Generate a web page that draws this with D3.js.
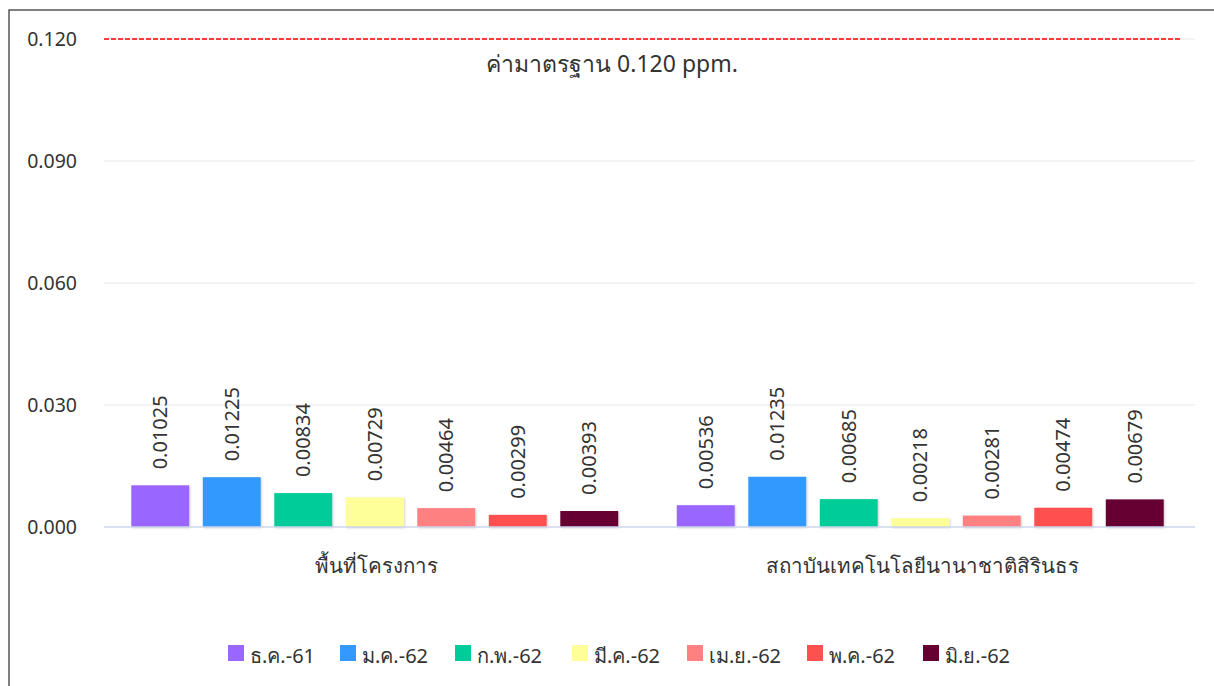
<!DOCTYPE html>
<html>
<head>
<meta charset="utf-8">
<script src="https://cdn.jsdelivr.net/npm/d3@7"></script>
<style>
  body { margin: 0; background: #fff; }
  text { font-family: "Noto Sans", sans-serif; fill: #333; }
</style>
</head>
<body>
<div id="chart"></div>
<script>
var categories = ["พื้นที่โครงการ", "สถาบันเทคโนโลยีนานาชาติสิรินธร"];
var seriesNames = ["ธ.ค.-61", "ม.ค.-62", "ก.พ.-62", "มี.ค.-62", "เม.ย.-62", "พ.ค.-62", "มิ.ย.-62"];
var seriesColors = ["#9966ff", "#3399ff", "#00cc99", "#ffff99", "#ff8080", "#ff5050", "#660033"];
var seriesValues = [
  [0.01025, 0.00536],
  [0.01225, 0.01235],
  [0.00834, 0.00685],
  [0.00729, 0.00218],
  [0.00464, 0.00281],
  [0.00299, 0.00474],
  [0.00393, 0.00679]
];
var yTicks = [0, 0.03, 0.06, 0.09, 0.12];
var standardValue = 0.12;
var standardLabel = "ค่ามาตรฐาน 0.120 ppm.";

var width = 1214, height = 686;
var margin = {top: 39, right: 19, bottom: 159, left: 104};

var svg = d3.select("#chart").append("svg")
  .attr("width", width)
  .attr("height", height);

// shadow for bars
var defs = svg.append("defs");
var f = defs.append("filter").attr("id", "shadow")
  .attr("x", "-10%").attr("y", "-10%").attr("width", "130%").attr("height", "130%");
f.append("feDropShadow").attr("dx", 1).attr("dy", 1).attr("stdDeviation", 1)
  .attr("flood-color", "#000").attr("flood-opacity", 0.2);

// frame
svg.append("rect")
  .attr("x", 9).attr("y", 10)
  .attr("width", 1300).attr("height", 800)
  .attr("fill", "none")
  .attr("stroke", "#555")
  .attr("stroke-width", 1.5);

var y = d3.scaleLinear().domain([0, 0.12]).range([height - margin.bottom, margin.top]);
var x0 = d3.scaleBand().domain(categories).range([margin.left, width - margin.right]);
var x1 = d3.scaleBand().domain(seriesNames)
  .range([20.5, x0.bandwidth() - 24.5])
  .paddingInner(0.19).paddingOuter(0.095);

// gridlines
svg.append("g").selectAll("line")
  .data(yTicks.filter(function(d) { return d > 0; }))
  .join("line")
  .attr("x1", margin.left).attr("x2", width - margin.right)
  .attr("y1", function(d) { return y(d); })
  .attr("y2", function(d) { return y(d); })
  .attr("stroke", "#e6e6e6").attr("stroke-width", 1);

// y tick labels
svg.append("g").selectAll("text")
  .data(yTicks)
  .join("text")
  .attr("x", 77)
  .attr("y", function(d) { return y(d); })
  .attr("dy", "0.35em")
  .attr("text-anchor", "end")
  .style("font-size", "19.5px")
  .text(function(d) { return d3.format(".3f")(d); });

// bars
var groups = svg.append("g").selectAll("g")
  .data(categories)
  .join("g")
  .attr("transform", function(d) { return "translate(" + x0(d) + ",0)"; });

groups.selectAll("rect")
  .data(function(d, i) {
    return seriesNames.map(function(s, j) { return {s: s, v: seriesValues[j][i], c: seriesColors[j]}; });
  })
  .join("rect")
  .attr("x", function(d) { return x1(d.s); })
  .attr("y", function(d) { return y(d.v); })
  .attr("width", x1.bandwidth())
  .attr("height", function(d) { return y(0) - y(d.v); })
  .attr("fill", function(d) { return d.c; })
  .attr("filter", "url(#shadow)");

groups.selectAll("text")
  .data(function(d, i) {
    return seriesNames.map(function(s, j) { return {s: s, v: seriesValues[j][i]}; });
  })
  .join("text")
  .attr("transform", function(d) {
    return "translate(" + (x1(d.s) + x1.bandwidth() / 2) + "," + (y(d.v) - 16) + ") rotate(-90)";
  })
  .attr("dy", "0.35em")
  .attr("text-anchor", "start")
  .style("font-size", "20px")
  .text(function(d) { return d3.format(".5f")(d.v); });

// baseline
svg.append("line")
  .attr("x1", margin.left).attr("x2", width - margin.right)
  .attr("y1", y(0)).attr("y2", y(0))
  .attr("stroke", "#ccd6eb").attr("stroke-width", 1.5);

// category labels
svg.append("g").selectAll("text")
  .data(categories)
  .join("text")
  .attr("x", function(d) { return x0(d) + x0.bandwidth() / 2; })
  .attr("y", y(0) + 46)
  .attr("text-anchor", "middle")
  .style("font-size", "20.5px")
  .text(function(d) { return d; });

// standard line
svg.append("line")
  .attr("x1", margin.left).attr("x2", 1181)
  .attr("y1", y(standardValue)).attr("y2", y(standardValue))
  .attr("stroke", "#ff0000").attr("stroke-width", 1.5)
  .attr("stroke-dasharray", "5,2");

svg.append("text")
  .attr("x", 612)
  .attr("y", y(standardValue) + 33)
  .attr("text-anchor", "middle")
  .style("font-size", "23px")
  .text(standardLabel);

// legend
var legendX = [228, 340, 455, 572, 687, 807, 923];
var legend = svg.append("g").selectAll("g")
  .data(seriesNames)
  .join("g")
  .attr("transform", function(d, i) { return "translate(" + legendX[i] + ",645)"; });

legend.append("rect")
  .attr("width", 16).attr("height", 16)
  .attr("fill", function(d, i) { return seriesColors[i]; });

legend.append("text")
  .attr("x", 22)
  .attr("y", 18)
  .style("font-size", "20px")
  .text(function(d) { return d; });
</script>
</body>
</html>
